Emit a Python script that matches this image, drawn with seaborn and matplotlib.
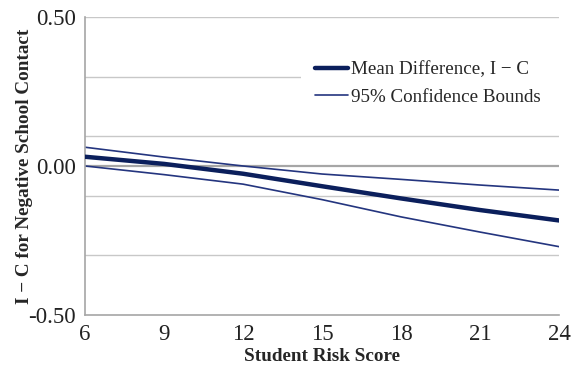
import matplotlib.pyplot as plt
from matplotlib.patches import Rectangle
import pandas as pd
import seaborn as sns

# valores
risk_score = [6, 9, 12, 15, 18, 21, 24]
mean_diff = [0.031, 0.007, -0.026, -0.068, -0.109, -0.148, -0.183]
upper_bound = [0.063, 0.030, 0.000, -0.027, -0.045, -0.064, -0.081]
lower_bound = [0.000, -0.029, -0.061, -0.113, -0.171, -0.222, -0.271]

x_ticks = [6, 9, 12, 15, 18, 21, 24]
y_ticks = [-0.5, 0.0, 0.5]
y_grid = [-0.3, -0.1, 0.1, 0.3, 0.5]

df = pd.DataFrame({"x": risk_score, "mean": mean_diff,
                   "upper": upper_bound, "lower": lower_bound})

sns.set_style("white")
plt.rcParams['font.family'] = ['Liberation Serif', 'DejaVu Serif']

fig = plt.figure(figsize=(5.76, 3.73), dpi=100)
ax = fig.add_axes([0.1476, 0.156, 0.823, 0.798])

grid_color = '#c8c8c8'
for g in y_grid:
    ax.axhline(g, color=grid_color, lw=1.0, zorder=0)
ax.axhline(0, color='#a6a6a6', lw=1.6, zorder=0)

# fondo blanco de la leyenda, tapa la rejilla hasta el borde derecho
ax.add_patch(Rectangle((0.455, 0.68), 0.545, 0.22, transform=ax.transAxes,
                       facecolor='white', edgecolor='none', zorder=1))

navy = '#0b1f5c'
thin = '#24357f'
sns.lineplot(data=df, x="x", y="mean", ax=ax, color=navy, lw=3.2,
             label='Mean Difference, I \u2212 C', zorder=3)
sns.lineplot(data=df, x="x", y="upper", ax=ax, color=thin, lw=1.2,
             label='95% Confidence Bounds', zorder=2)
sns.lineplot(data=df, x="x", y="lower", ax=ax, color=thin, lw=1.2,
             label='_nolegend_', zorder=2)

ax.set_xlim(6, 24)
ax.set_ylim(-0.5, 0.5)
ax.set_xticks(x_ticks)
ax.set_yticks(y_ticks)
ax.set_yticklabels(['-0.50', '0.00', '0.50'])
ax.tick_params(axis='both', labelsize=16.5, labelcolor='#222222',
               direction='out', length=5, width=1, pad=1.5, color='#a6a6a6')

for s in ['top', 'right']:
    ax.spines[s].set_visible(False)
for s in ['left', 'bottom']:
    ax.spines[s].set_color('#a6a6a6')
    ax.spines[s].set_linewidth(1.2)

ax.set_xlabel('Student Risk Score', fontsize=13.8, fontweight='bold', labelpad=2)
ax.set_ylabel('I \u2212 C for Negative School Contact', fontsize=13.8,
              fontweight='bold')
ax.yaxis.set_label_coords(-0.11, 0.5)

leg = ax.legend(loc='upper left', bbox_to_anchor=(0.472, 0.875), frameon=True,
                fontsize=13.7, handlelength=1.7, handletextpad=0.15,
                labelspacing=0.55, borderpad=0.35, borderaxespad=0)
leg.get_frame().set_facecolor('white')
leg.get_frame().set_edgecolor('white')
leg.get_frame().set_alpha(1)
leg.set_zorder(5)

plt.savefig('out.png', dpi=100)
